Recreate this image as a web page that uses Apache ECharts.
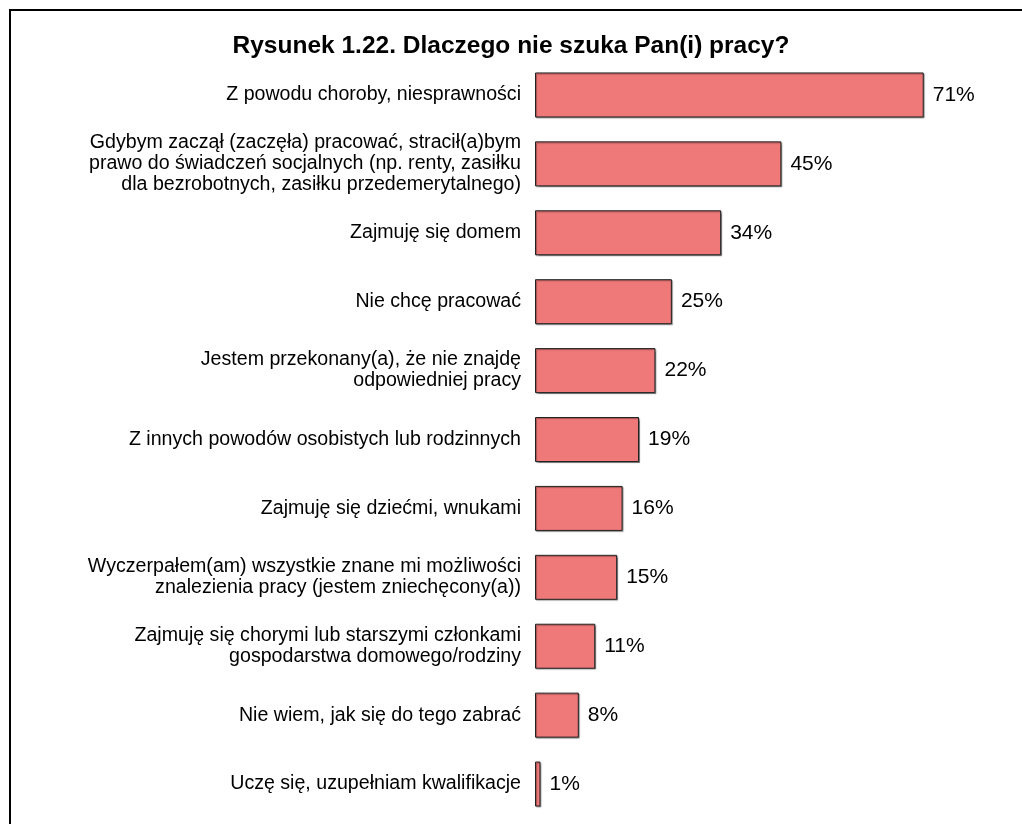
<!DOCTYPE html>
<html>
<head>
<meta charset="utf-8">
<script src="https://cdn.jsdelivr.net/npm/echarts@6/dist/echarts.min.js"></script>
<style>
    html, body { margin: 0; padding: 0; background: #fff; }
    #main { width: 1022px; height: 824px; }
</style>
</head>
<body>
<div id="main"></div>
<script>
// powody (od góry)
var powody = [
    'Z powodu choroby, niesprawności',
    'Gdybym zaczął (zaczęła) pracować, stracił(a)bym\nprawo do świadczeń socjalnych (np. renty, zasiłku\ndla bezrobotnych, zasiłku przedemerytalnego)',
    'Zajmuję się domem',
    'Nie chcę pracować',
    'Jestem przekonany(a), że nie znajdę\nodpowiedniej pracy',
    'Z innych powodów osobistych lub rodzinnych',
    'Zajmuję się dziećmi, wnukami',
    'Wyczerpałem(am) wszystkie znane mi możliwości\nznalezienia pracy (jestem zniechęcony(a))',
    'Zajmuję się chorymi lub starszymi członkami\ngospodarstwa domowego/rodziny',
    'Nie wiem, jak się do tego zabrać',
    'Uczę się, uzupełniam kwalifikacje'
]
var procenty = [71, 45, 34, 25, 22, 19, 16, 15, 11, 8, 1] // %

var chart = echarts.init(document.getElementById('main'))

var option = {
    backgroundColor: '#fff',
    animation: false,
    title: {
        text: 'Rysunek 1.22. Dlaczego nie szuka Pan(i) pracy?',
        left: 'center',
        top: 29,
        textStyle: {
            fontFamily: 'Liberation Sans, Arial, sans-serif',
            fontWeight: 'bold',
            fontSize: 24.5,
            color: '#000'
        }
    },
    // ramka (lewa i górna krawędź)
    graphic: [{
        type: 'polyline',
        shape: { points: [[10, 830], [10, 10], [1030, 10]] },
        style: { stroke: '#000', lineWidth: 2, fill: null },
        silent: true
    }],
    grid: {
        left: 535,
        right: 49,
        top: 60.5,
        bottom: 5.5,
        containLabel: false
    },
    xAxis: {
        type: 'value',
        min: 0,
        max: 80,
        show: false
    },
    yAxis: {
        type: 'category',
        data: powody,
        inverse: true,
        axisLine: { show: false },
        axisTick: { show: false },
        splitLine: { show: false },
        axisLabel: {
            margin: 14,
            align: 'right',
            fontFamily: 'Liberation Sans, Arial, sans-serif',
            fontSize: 19.6,
            lineHeight: 21,
            color: '#000'
        }
    },
    series: [{
        type: 'bar',
        data: procenty,
        barWidth: 45,
        itemStyle: {
            color: '#EF7878',
            borderColor: '#222',
            borderWidth: 1,
            shadowColor: 'rgba(0,0,0,0.35)',
            shadowOffsetX: 1,
            shadowOffsetY: 1,
            shadowBlur: 1
        },
        label: {
            show: true,
            position: 'right',
            distance: 9,
            formatter: '{c}%',
            fontFamily: 'Liberation Sans, Arial, sans-serif',
            fontSize: 21,
            color: '#000'
        }
    }]
}

chart.setOption(option)
</script>
</body>
</html>
